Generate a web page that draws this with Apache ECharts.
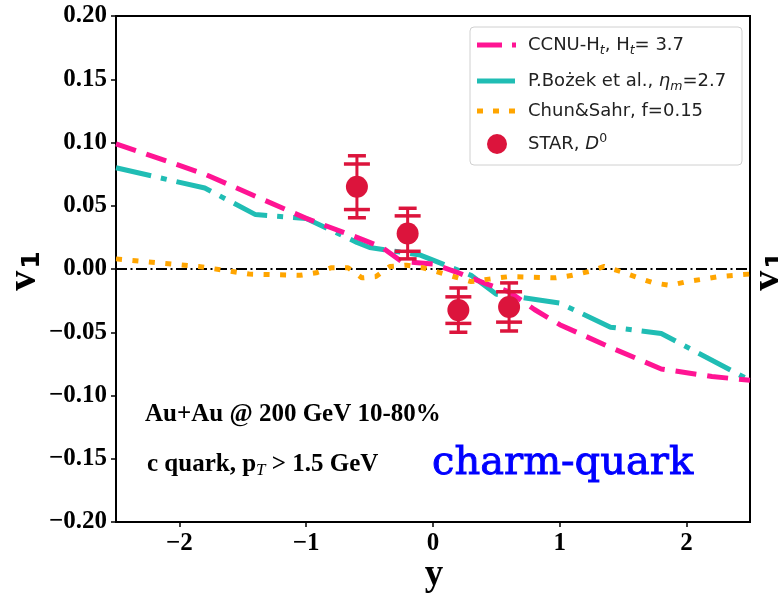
<!DOCTYPE html>
<html>
<head>
<meta charset="utf-8">
<script src="https://cdn.jsdelivr.net/npm/echarts@6/dist/echarts.min.js"></script>
<style>
  html, body { margin: 0; padding: 0; background: #fff; }
  #chart { width: 778px; height: 598px; }
</style>
</head>
<body>
<div id="chart"></div>
<script>
// Directed flow v1 of charm quarks versus rapidity y

// Axis ticks
const xTickValues = [-2, -1, 0, 1, 2];
const yTickValues = [-0.20, -0.15, -0.10, -0.05, 0.00, 0.05, 0.10, 0.15, 0.20];

// CCNU-Ht model, Ht = 3.7
const ccnuX = [-2.5, -1.8, -1.0, -0.6, -0.4, -0.25, 0.0, 0.2, 0.4, 0.6, 0.8, 1.0, 1.4, 1.8, 2.2, 2.5];
const ccnuY = [0.099, 0.075, 0.040, 0.025, 0.017, 0.006, 0.004, -0.003, -0.011, -0.018, -0.032, -0.044, -0.062, -0.079, -0.085, -0.088];

// P. Bożek et al., eta_m = 2.7
const bozekX = [-2.5, -1.8, -1.4, -1.0, -0.6, -0.5, -0.1, 0.0, 0.3, 0.5, 0.6, 1.0, 1.4, 1.8, 2.5];
const bozekY = [0.080, 0.064, 0.043, 0.040, 0.021, 0.017, 0.011, 0.007, -0.005, -0.020, -0.021, -0.027, -0.046, -0.051, -0.088];

// Chun & Sahr, f = 0.15
const chunX = [-2.5, -1.85, -1.45, -1.05, -0.92, -0.8, -0.67, -0.56, -0.45, -0.34, -0.21, -0.08, 0.06, 0.3, 0.44, 0.6, 0.97, 1.1, 1.23, 1.35, 1.48, 1.62, 1.74, 1.87, 2.0, 2.13, 2.25, 2.5];
const chunY = [0.008, 0.002, -0.004, -0.005, -0.003, 0.001, 0.001, -0.007, -0.006, 0.002, 0.003, 0.001, -0.003, -0.010, -0.008, -0.006, -0.007, -0.005, -0.002, 0.002, -0.002, -0.007, -0.011, -0.013, -0.010, -0.008, -0.006, -0.004];

// STAR D0 measurements
const starX = [-0.6, -0.2, 0.2, 0.6];
const starY = [0.065, 0.028, -0.0325, -0.030];
const starStatErr = [0.018, 0.014, 0.0105, 0.012];
const starSysErr = [0.0245, 0.020, 0.0175, 0.019];

const COL_CCNU = '#ff1493';
const COL_BOZEK = '#20bdb4';
const COL_CHUN = '#ffa500';
const COL_STAR = '#dc143c';

const pairs = (xs, ys) => xs.map((x, i) => [x, ys[i]]);
const fmtMinus = (v, digits) => (v < 0 ? '\u2212' : '') + Math.abs(v).toFixed(digits);

const tickFont = { fontFamily: 'Liberation Serif', fontWeight: 'bold', fontSize: 25, color: '#000' };

const chart = echarts.init(document.getElementById('chart'), null, { renderer: 'canvas' });

const GRID = { left: 116, top: 16, width: 634, height: 506 };

// legend rich-text styles
const legRich = {
  n: { fontFamily: 'DejaVu Sans', fontSize: 18, lineHeight: 24, fill: '#222' },
  i: { fontFamily: 'DejaVu Sans', fontStyle: 'italic', fontSize: 18, lineHeight: 24, fill: '#222' },
  sb: { fontFamily: 'DejaVu Sans', fontStyle: 'italic', fontSize: 12.5, lineHeight: 12, verticalAlign: 'bottom', fill: '#222' },
  sp: { fontFamily: 'DejaVu Sans', fontSize: 12.5, lineHeight: 12, verticalAlign: 'top', fill: '#222' }
};

function legendText(y, text) {
  return {
    type: 'text', x: 528, y: y, z: 101,
    style: { text: text, rich: legRich, align: 'left', verticalAlign: 'middle' }
  };
}

function yLabel(cx) {
  return {
    type: 'text', x: cx, y: 271, rotation: Math.PI / 2, z: 50,
    style: {
      text: '{v|v}{s|1}', align: 'center', verticalAlign: 'middle',
      rich: {
        v: { fontFamily: 'Liberation Serif', fontWeight: 'bold', fontSize: 40, lineHeight: 40, fill: '#000' },
        s: { fontFamily: 'DejaVu Sans', fontWeight: 'bold', fontSize: 25, lineHeight: 25, verticalAlign: 'bottom', padding: [0, 0, 0, 2], fill: '#000' }
      }
    }
  };
}

const option = {
  backgroundColor: '#fff',
  animation: false,
  grid: Object.assign({ show: true, borderColor: '#000', borderWidth: 2, backgroundColor: 'transparent', containLabel: false }, GRID),
  xAxis: {
    type: 'value', min: -2.5, max: 2.5,
    axisLine: { show: false, onZero: false },
    axisTick: { show: true, inside: false, length: 5, lineStyle: { color: '#000', width: 1.5 }, customValues: xTickValues },
    axisLabel: Object.assign({ margin: 9, customValues: xTickValues, formatter: v => fmtMinus(v, 0) }, tickFont),
    splitLine: { show: false }
  },
  yAxis: {
    type: 'value', min: -0.2, max: 0.2, interval: 0.05,
    axisLine: { show: false, onZero: false },
    axisTick: { show: true, inside: false, length: 5, lineStyle: { color: '#000', width: 1.5 }, customValues: yTickValues },
    axisLabel: Object.assign({ margin: 9, customValues: yTickValues, formatter: v => fmtMinus(v, 2) }, tickFont),
    splitLine: { show: false }
  },
  series: [
    {
      name: 'zero', type: 'line', symbol: 'none', silent: true, z: 1,
      data: [[-2.5, 0], [2.5, 0]],
      lineStyle: { color: '#000', width: 1.8, type: [11, 3.5, 2, 3.5] }
    },
    {
      name: 'CCNU', type: 'line', symbol: 'none', z: 3,
      data: pairs(ccnuX, ccnuY),
      lineStyle: { color: COL_CCNU, width: 5, type: [21, 11], cap: 'butt' }
    },
    {
      name: 'Bozek', type: 'line', symbol: 'none', z: 2,
      data: pairs(bozekX, bozekY),
      lineStyle: { color: COL_BOZEK, width: 5, type: [36, 10, 6, 10], cap: 'butt' }
    },
    {
      name: 'Chun', type: 'line', symbol: 'none', z: 4,
      data: pairs(chunX, chunY),
      lineStyle: { color: COL_CHUN, width: 5, type: [6, 10.5], cap: 'butt' }
    },
    {
      name: 'STAR err', type: 'custom', z: 5,
      data: starX.map((x, i) => [x, starY[i], starStatErr[i], starSysErr[i]]),
      renderItem: function (params, api) {
        const x = api.value(0), y = api.value(1), st = api.value(2), sy = api.value(3);
        const top2 = api.coord([x, y + sy]);
        const top1 = api.coord([x, y + st]);
        const bot1 = api.coord([x, y - st]);
        const bot2 = api.coord([x, y - sy]);
        const sty = { stroke: COL_STAR, lineWidth: 3.5 };
        const cap = (p, hw) => ({ type: 'line', shape: { x1: p[0] - hw, y1: p[1], x2: p[0] + hw, y2: p[1] }, style: sty });
        return {
          type: 'group',
          children: [
            { type: 'line', shape: { x1: top2[0], y1: top2[1], x2: bot2[0], y2: bot2[1] }, style: { stroke: COL_STAR, lineWidth: 3 } },
            cap(top2, 9), cap(bot2, 9), cap(top1, 13), cap(bot1, 13)
          ]
        };
      }
    },
    {
      name: 'STAR', type: 'scatter', z: 6,
      data: pairs(starX, starY),
      symbol: 'circle', symbolSize: 22,
      itemStyle: { color: COL_STAR, opacity: 1 }
    }
  ],
  graphic: [
    // legend box
    { type: 'rect', x: 470, y: 27, z: 100, shape: { width: 272, height: 138, r: 4 },
      style: { fill: 'rgba(255,255,255,0.85)', stroke: '#d0d0d0', lineWidth: 1 } },
    { type: 'line', z: 101, shape: { x1: 477, y1: 45, x2: 516, y2: 45 },
      style: { stroke: COL_CCNU, lineWidth: 5, lineDash: [25, 10] } },
    { type: 'line', z: 101, shape: { x1: 477, y1: 81, x2: 516, y2: 81 },
      style: { stroke: COL_BOZEK, lineWidth: 5, lineDash: [38, 10] } },
    { type: 'line', z: 101, shape: { x1: 477, y1: 111, x2: 516, y2: 111 },
      style: { stroke: COL_CHUN, lineWidth: 5, lineDash: [6, 10] } },
    { type: 'circle', z: 101, shape: { cx: 497, cy: 144, r: 10 }, style: { fill: COL_STAR } },
    legendText(45, '{n|CCNU-H}{sb|t}{n|, H}{sb|t}{n|= 3.7}'),
    legendText(81, '{n|P.Bożek et al., }{i|η}{sb|m}{n|=2.7}'),
    legendText(111, '{n|Chun&Sahr, f=0.15}'),
    legendText(144, '{n|STAR, }{i|D}{sp|0}'),

    // annotations
    { type: 'text', x: 145, y: 415, z: 50,
      style: { text: 'Au+Au @ 200 GeV 10-80%', font: 'bold 25px "Liberation Serif"', fill: '#000', align: 'left', verticalAlign: 'middle' } },
    { type: 'text', x: 147, y: 465, z: 50,
      style: {
        text: '{n|c quark, p}{s|T}{n| > 1.5 GeV}', align: 'left', verticalAlign: 'middle',
        rich: {
          n: { fontFamily: 'Liberation Serif', fontWeight: 'bold', fontSize: 25, lineHeight: 28, fill: '#000' },
          s: { fontFamily: 'Liberation Serif', fontStyle: 'italic', fontSize: 17, lineHeight: 17, verticalAlign: 'bottom', fill: '#000' }
        }
      } },
    { type: 'text', x: 432, y: 464, z: 50,
      style: { text: 'charm-quark', font: '40px "DejaVu Serif"', fill: '#0000ff', stroke: '#0000ff', lineWidth: 0.9, align: 'left', verticalAlign: 'middle' } },

    // axis titles
    { type: 'text', x: 434, y: 575, z: 50,
      style: { text: 'y', font: 'bold 37px "Liberation Serif"', fill: '#000', align: 'center', verticalAlign: 'middle' } },
    yLabel(25),
    yLabel(769)
  ]
};

chart.setOption(option);
</script>
</body>
</html>
